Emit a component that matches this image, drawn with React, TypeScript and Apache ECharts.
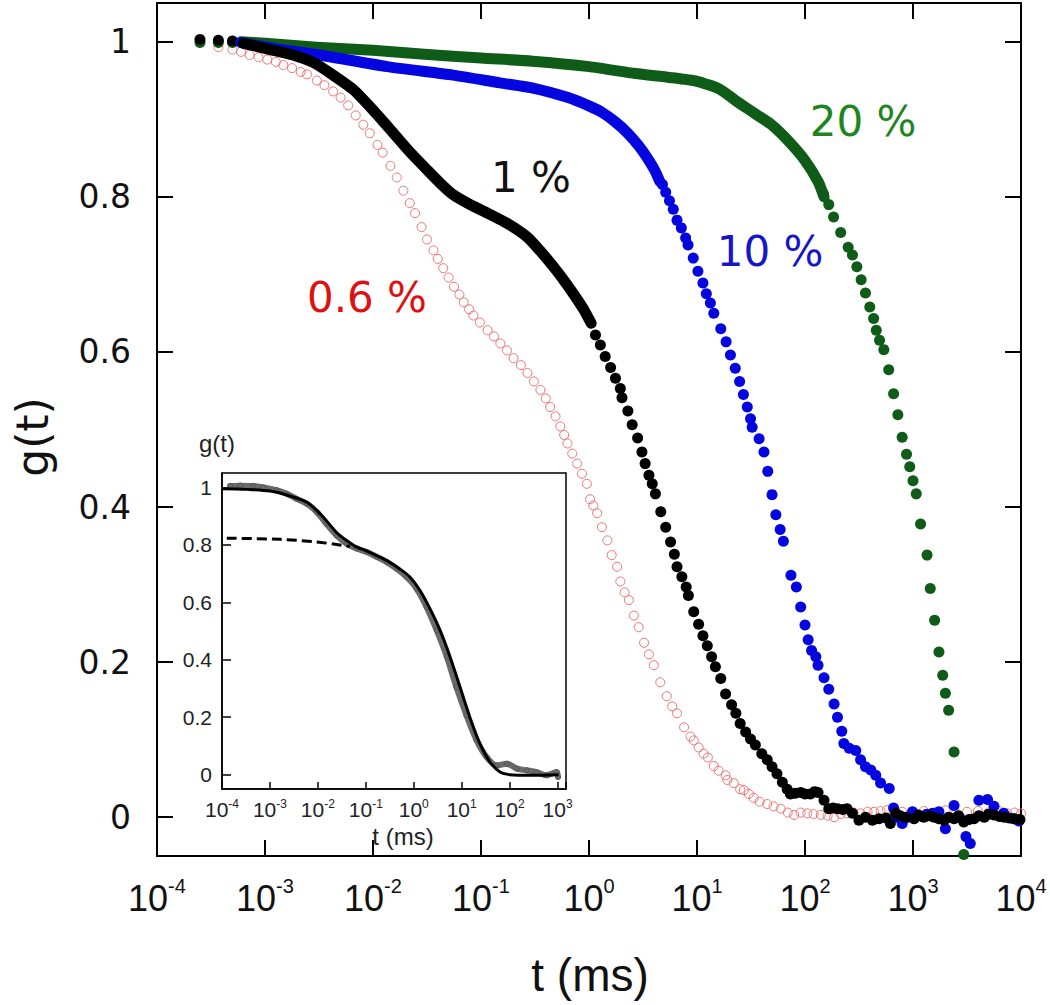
import React, { useEffect, useRef } from "react";
import * as echarts from "echarts";

// ---------- tick values ----------
const gTicks = [0, 0.2, 0.4, 0.6, 0.8, 1];

// ---------- main plot data: [t (ms), g(t)] ----------
// 0.6 % (open red circles)
const red06 = [
  [3.7e-4, 0.993], [5.0e-4, 0.99], [6.0e-4, 0.987], [7.2e-4, 0.983], [8.7e-4, 0.98],
  [1.05e-3, 0.977], [1.26e-3, 0.974], [1.48e-3, 0.97], [1.78e-3, 0.966], [2.14e-3, 0.961],
  [2.45e-3, 0.958], [3.02e-3, 0.95], [3.55e-3, 0.944], [4.27e-3, 0.936], [5.01e-3, 0.928],
  [5.89e-3, 0.918], [6.92e-3, 0.905], [8.13e-3, 0.893], [9.33e-3, 0.882], [1.1e-2, 0.867],
  [1.23e-2, 0.857], [1.45e-2, 0.84], [1.66e-2, 0.825], [1.91e-2, 0.808], [2.19e-2, 0.792],
  [2.45e-2, 0.779], [2.82e-2, 0.761], [3.16e-2, 0.745], [3.63e-2, 0.731], [3.98e-2, 0.72],
  [4.47e-2, 0.708], [5.01e-2, 0.696], [5.62e-2, 0.684], [6.31e-2, 0.674], [6.92e-2, 0.664],
  [7.76e-2, 0.655], [8.51e-2, 0.647], [9.77e-2, 0.638], [0.115, 0.628], [0.132, 0.62],
  [0.151, 0.611], [0.174, 0.602], [0.2, 0.592], [0.234, 0.583], [0.269, 0.573],
  [0.309, 0.562], [0.355, 0.551], [0.398, 0.54], [0.437, 0.529], [0.49, 0.517],
  [0.543, 0.504], [0.589, 0.493], [0.631, 0.482], [0.7, 0.469], [0.776, 0.456],
  [0.861, 0.443], [0.955, 0.43], [1.023, 0.41], [1.096, 0.402], [1.189, 0.392],
  [1.318, 0.374], [1.479, 0.357], [1.622, 0.338], [1.82, 0.323], [1.95, 0.304],
  [2.138, 0.29], [2.344, 0.28], [2.6, 0.26], [2.884, 0.245], [3.236, 0.225],
  [3.59, 0.21], [3.98, 0.196], [4.57, 0.174], [5.25, 0.156], [5.89, 0.143],
  [6.53, 0.134], [7.59, 0.116], [8.71, 0.104], [9.33, 0.099], [10.35, 0.09],
  [11.5, 0.082], [12.6, 0.077], [14.3, 0.066], [15.85, 0.06], [18.4, 0.054],
  [19.1, 0.048], [21.9, 0.044], [25.1, 0.036], [27.2, 0.035], [30.2, 0.03],
  [33.5, 0.025], [38, 0.02], [44.7, 0.017], [51.3, 0.014], [59.6, 0.011],
  [69.2, 0.006], [79.4, 0.003], [91.2, 0.006], [105, 0.005], [120, 0.004],
  [140, 0.003], [162, 0.002], [186, 0.0], [214, 0.004], [245, 0.005],
  [282, 0.006], [327, 0.005], [380, 0.007], [437, 0.007], [501, 0.008],
  [575, 0.009], [661, 0.006], [794, 0.007], [1000, 0.005], [1259, 0.008],
  [1585, 0.006], [1995, 0.009], [2512, 0.006], [3162, 0.007], [3981, 0.008],
  [5012, 0.006], [6310, 0.008], [7499, 0.005], [8710, 0.006], [10000, 0.005],
];

// 20 % (green): dense band, then separated points
const green20Band = [
  [6e-4, 1.0], [1e-3, 0.998], [3e-3, 0.993], [1e-2, 0.989], [3e-2, 0.984], [0.1, 0.979],
  [0.3, 0.975], [1, 0.968], [2.7, 0.959], [5.6, 0.954], [10, 0.949], [16.2, 0.939],
  [23.4, 0.923], [33.9, 0.908], [49, 0.893], [69.2, 0.873], [100, 0.847], [133, 0.819],
  [150, 0.8],
];
const green20Dots = [
  [2.5e-4, 0.999], [3.7e-4, 0.999], [5e-4, 0.999],
  [148, 0.804], [166, 0.79], [184, 0.774], [214, 0.754], [251, 0.735], [275, 0.725],
  [302, 0.71], [331, 0.693], [363, 0.676], [398, 0.658], [432, 0.643], [457, 0.628],
  [490, 0.615], [537, 0.603], [596, 0.577], [661, 0.546], [724, 0.519], [794, 0.49],
  [871, 0.468], [933, 0.452], [1000, 0.434], [1072, 0.417], [1175, 0.378], [1349, 0.338],
  [1445, 0.295], [1585, 0.254], [1738, 0.213], [1884, 0.183], [1995, 0.16], [2138, 0.138],
  [2399, 0.084], [2951, -0.048],
];

// 10 % (blue)
const blue10Band = [
  [6e-4, 0.999], [1.4e-3, 0.99], [3.2e-3, 0.983], [1.35e-2, 0.968], [5.5e-2, 0.957],
  [0.15, 0.947], [0.31, 0.94], [0.64, 0.928], [1.01, 0.917], [1.32, 0.909], [1.74, 0.897],
  [2.29, 0.882], [2.88, 0.866], [3.47, 0.85], [4.07, 0.834], [4.52, 0.82],
];
const blue10Dots = [
  [4.79, 0.816], [5.13, 0.806], [5.56, 0.795], [6.03, 0.784], [6.53, 0.77], [7.16, 0.76],
  [7.85, 0.747], [8.26, 0.738], [9.23, 0.721], [10.2, 0.704], [11.35, 0.689], [12.2, 0.675],
  [13.3, 0.663], [14.3, 0.65], [16.6, 0.63], [18.6, 0.613], [20.4, 0.596], [22.6, 0.579],
  [24.8, 0.562], [26.9, 0.545], [29.2, 0.529], [31.3, 0.514], [32.4, 0.503], [37.6, 0.488],
  [41.7, 0.471], [45.2, 0.446], [49.5, 0.416], [53.7, 0.39], [58.9, 0.371], [63.1, 0.356],
  [74.1, 0.312], [83.2, 0.297], [91.2, 0.271], [100, 0.248], [107, 0.229], [115, 0.215],
  [126, 0.207], [132, 0.196], [150, 0.18], [166, 0.165], [186, 0.146], [200, 0.129],
  [219, 0.111], [229, 0.095], [257, 0.089], [295, 0.086], [327, 0.074], [363, 0.065],
  [407, 0.061], [452, 0.054], [501, 0.044], [603, 0.037], [661, 0.012], [708, 0.0],
  [794, -0.008], [891, 0.0], [989, 0.007], [1072, 0.003], [1148, 0.002], [1349, 0.004],
  [1514, 0.005], [1738, 0.007], [1995, -0.015], [2399, 0.015], [2692, 0.0], [3090, -0.025],
  [3388, -0.034], [4074, 0.022], [4898, 0.023], [5623, 0.014], [6918, 0.005], [8511, -0.002],
  [9550, -0.005],
];

// 1 % (black)
const black1Band = [
  [6.3e-4, 0.998], [1.12e-3, 0.99], [1.82e-3, 0.983], [2.82e-3, 0.973], [4.27e-3, 0.957],
  [6.61e-3, 0.938], [1e-2, 0.912], [1.55e-2, 0.882], [2.19e-2, 0.858], [3.16e-2, 0.835],
  [4.17e-2, 0.818], [5.5e-2, 0.803], [7.94e-2, 0.79], [0.115, 0.779], [0.174, 0.766],
  [0.269, 0.748], [0.355, 0.73], [0.468, 0.71], [0.603, 0.69], [0.75, 0.671], [0.891, 0.655],
  [1.047, 0.637],
];
const black1Dots = [
  [2.5e-4, 1.003], [3.7e-4, 1.002], [5e-4, 1.001], [6.3e-4, 0.999],
  [1.148, 0.622], [1.274, 0.609], [1.413, 0.594], [1.585, 0.58], [1.758, 0.566], [1.95, 0.553],
  [2.02, 0.541], [2.29, 0.524], [2.51, 0.506], [2.82, 0.489], [3.09, 0.471], [3.31, 0.456],
  [3.59, 0.441], [3.85, 0.43], [4.12, 0.417], [4.62, 0.394], [5.13, 0.374], [5.69, 0.355],
  [6.17, 0.339], [6.53, 0.323], [7.24, 0.31], [7.94, 0.297], [8.32, 0.286], [9.33, 0.265],
  [10.35, 0.249], [11.35, 0.234], [12.45, 0.221], [13.65, 0.207], [14.8, 0.194], [16.6, 0.179],
  [18.4, 0.159], [20.9, 0.145], [22.9, 0.134], [25.1, 0.121], [28.2, 0.11], [31.3, 0.101],
  [34.7, 0.093], [39.8, 0.082], [44.7, 0.074], [49.5, 0.065], [55, 0.056], [61.7, 0.045],
  [68.4, 0.036], [73.3, 0.03], [81.3, 0.031], [91.2, 0.032], [100, 0.03], [112, 0.03],
  [123, 0.033], [132, 0.032], [150, 0.022], [166, 0.011], [182, 0.012], [200, 0.011],
  [224, 0.01], [245, 0.011], [275, 0.005], [316, -0.004], [363, 0.0], [422, -0.004],
  [484, -0.002], [562, -0.001], [617, -0.008], [692, 0.005], [759, 0.002], [851, 0.0],
  [1023, -0.002], [1122, 0.003], [1259, 0.0], [1413, 0.002], [1567, 0.0], [1738, -0.002],
  [1950, -0.004], [2138, 0.0], [2399, -0.002], [2630, 0.002], [2951, -0.006], [3311, -0.003],
  [3673, -0.002], [4074, 0.002], [4571, 0.0], [5012, 0.004], [5623, 0.003], [6310, 0.001],
  [7000, 0.0], [7762, -0.001], [8710, -0.002], [9772, -0.003],
];

// ---------- inset data ----------
const insetFit = [
  [1e-4, 0.995], [3.24e-4, 0.993], [1e-3, 0.987], [2.63e-3, 0.97], [5.89e-3, 0.948],
  [9.55e-3, 0.919], [1.51e-2, 0.884], [2.45e-2, 0.843], [3.98e-2, 0.815], [6.46e-2, 0.792],
  [0.1, 0.78], [0.17, 0.762], [0.316, 0.739], [0.513, 0.716], [0.832, 0.688], [1.35, 0.641],
  [2.19, 0.577], [3.55, 0.502], [5.75, 0.409], [9.23, 0.305], [14.8, 0.2], [24, 0.108],
  [38.9, 0.044], [63.1, 0.009], [102, 0.0], [269, -0.002], [1047, 0.0],
];
const insetData = [
  [1.48e-4, 1.005], [2.4e-4, 1.006], [4.47e-4, 1.005], [7.24e-4, 1.0], [1.38e-3, 0.99],
  [2.24e-3, 0.978], [3.63e-3, 0.96], [5.89e-3, 0.943], [9.55e-3, 0.914], [1.51e-2, 0.873],
  [2.45e-2, 0.833], [3.98e-2, 0.804], [6.46e-2, 0.787], [0.105, 0.775], [0.17, 0.758],
  [0.275, 0.74], [0.437, 0.717], [0.708, 0.688], [1.15, 0.647], [1.86, 0.583], [3.02, 0.502],
  [4.9, 0.41], [7.76, 0.305], [12.6, 0.206], [20.4, 0.12], [33.1, 0.061], [53.7, 0.032],
  [87.1, 0.038], [141, 0.021], [229, 0.015], [363, 0.009], [589, -0.002], [955, 0.009],
  [1023, -0.008],
];
const insetFast = [
  [1.26e-4, 0.823], [1.62e-3, 0.819], [9.55e-3, 0.81], [2.45e-2, 0.801], [4.68e-2, 0.794],
];

const labels = [
  { text: "0.6 %", x: 367, y: 297, color: "#dd1111" },
  { text: "1 %", x: 531, y: 177, color: "#111111" },
  { text: "10 %", x: 770, y: 251, color: "#1616c8" },
  { text: "20 %", x: 863, y: 121, color: "#1f861f" },
];

const MAIN_FONT = "DejaVu Sans, Verdana, sans-serif";
const NARROW_FONT = "Liberation Sans Narrow, Liberation Sans, Arial, sans-serif";
const INSET_FONT = "Liberation Sans, Arial, sans-serif";

function powLabel(v: number) {
  const e = Math.log10(v);
  const r = Math.round(e);
  if (Math.abs(e - r) > 0.01) return "";
  return `{b|10}{s|${r}}`;
}

export default function App() {
  const ref = useRef<HTMLDivElement>(null);
  useEffect(() => {
    const chart = echarts.init(ref.current!, null, { renderer: "svg" });
    const black = "#000";
    const mainTick = { show: true, inside: true, length: 16, lineStyle: { color: black, width: 2 } };
    const mainLine = { show: true, onZero: false, lineStyle: { color: black, width: 2 } };
    const insetLine = { show: true, onZero: false, lineStyle: { color: black, width: 1.5 } };
    const DOT = 11;
    const option: any = {
      animation: false,
      backgroundColor: "#fff",
      grid: [
        { left: 157, top: 3, width: 864, height: 853, show: false },
        {
          left: 222, top: 473, width: 344, height: 316, show: true,
          backgroundColor: "#fff", borderColor: "#000", borderWidth: 1.5, z: 5,
        },
      ],
      xAxis: [
        {
          type: "log", gridIndex: 0, logBase: 10, min: 1e-4, max: 1e4,
          axisLine: mainLine,
          axisTick: mainTick,
          splitLine: { show: false },
          axisLabel: {
            margin: 20,
            formatter: powLabel,
            rich: {
              b: { fontSize: 36, fontFamily: NARROW_FONT, color: "#111", verticalAlign: "bottom", lineHeight: 40 },
              s: { fontSize: 20, fontFamily: NARROW_FONT, color: "#111", verticalAlign: "top", lineHeight: 22 },
            },
          },
        },
        {
          type: "log", gridIndex: 0, logBase: 10, min: 1e-4, max: 1e4, position: "top",
          axisLine: mainLine,
          axisTick: mainTick, axisLabel: { show: false }, splitLine: { show: false },
        },
        {
          type: "log", gridIndex: 1, logBase: 10, min: 1e-4, max: 1500, z: 6,
          axisLine: insetLine,
          axisTick: { show: true, inside: true, length: 7, lineStyle: { color: black, width: 1.5 } },
          splitLine: { show: false },
          axisLabel: {
            margin: 9,
            formatter: powLabel,
            rich: {
              b: { fontSize: 21, fontFamily: INSET_FONT, color: "#222", verticalAlign: "bottom", lineHeight: 22 },
              s: { fontSize: 12, fontFamily: INSET_FONT, color: "#222", verticalAlign: "top", lineHeight: 13 },
            },
          },
        },
      ],
      yAxis: [
        {
          type: "value", gridIndex: 0, min: -0.05, max: 1.05,
          axisLine: mainLine,
          axisTick: { ...mainTick, customValues: gTicks },
          splitLine: { show: false },
          axisLabel: {
            customValues: gTicks, margin: 26, fontSize: 33, fontFamily: MAIN_FONT, color: "#111",
            formatter: (v: number) => String(Math.round(v * 10) / 10),
          },
        },
        {
          type: "value", gridIndex: 0, min: -0.05, max: 1.05, position: "right",
          axisLine: mainLine,
          axisTick: { ...mainTick, customValues: gTicks },
          axisLabel: { show: false }, splitLine: { show: false },
        },
        {
          type: "value", gridIndex: 1, min: -0.05, max: 1.05, z: 6,
          axisLine: insetLine,
          axisTick: { show: true, inside: true, length: 9, lineStyle: { color: black, width: 1.5 }, customValues: gTicks },
          splitLine: { show: false },
          axisLabel: {
            customValues: gTicks, margin: 10, fontSize: 21, fontFamily: INSET_FONT, color: "#222",
            formatter: (v: number) => String(Math.round(v * 10) / 10),
          },
        },
      ],
      series: [
        {
          name: "0.6 %", type: "scatter", xAxisIndex: 0, yAxisIndex: 0, data: red06,
          symbol: "circle", symbolSize: 9,
          itemStyle: { color: "rgba(255,255,255,0)", borderColor: "#ec7272", borderWidth: 1, opacity: 1 },
        },
        {
          name: "20 % band", type: "line", xAxisIndex: 0, yAxisIndex: 0, data: green20Band,
          showSymbol: false, symbol: "none", smooth: 0.2,
          lineStyle: { color: "#0e5c17", width: DOT, cap: "round", join: "round" },
        },
        {
          name: "20 %", type: "scatter", xAxisIndex: 0, yAxisIndex: 0, data: green20Dots,
          symbolSize: DOT, itemStyle: { color: "#0e5c17", opacity: 1 },
        },
        {
          name: "10 % band", type: "line", xAxisIndex: 0, yAxisIndex: 0, data: blue10Band,
          showSymbol: false, symbol: "none", smooth: 0.2,
          lineStyle: { color: "#0505e0", width: DOT, cap: "round", join: "round" },
        },
        {
          name: "10 %", type: "scatter", xAxisIndex: 0, yAxisIndex: 0, data: blue10Dots,
          symbolSize: DOT, itemStyle: { color: "#0505e0", opacity: 1 },
        },
        {
          name: "1 % band", type: "line", xAxisIndex: 0, yAxisIndex: 0, data: black1Band,
          showSymbol: false, symbol: "none", smooth: 0.2,
          lineStyle: { color: "#000", width: DOT, cap: "round", join: "round" },
        },
        {
          name: "1 %", type: "scatter", xAxisIndex: 0, yAxisIndex: 0, data: black1Dots,
          symbolSize: DOT, itemStyle: { color: "#000", opacity: 1 },
        },
        {
          name: "inset data band", type: "line", xAxisIndex: 2, yAxisIndex: 2, data: insetData,
          showSymbol: false, symbol: "none", smooth: 0.3, z: 6,
          lineStyle: { color: "#6a6a6a", width: 6, cap: "round", join: "round" },
        },
        {
          name: "inset data", type: "scatter", xAxisIndex: 2, yAxisIndex: 2, data: insetData,
          symbolSize: 5, z: 6,
          itemStyle: { color: "rgba(255,255,255,0)", borderColor: "#555", borderWidth: 1, opacity: 1 },
        },
        {
          name: "inset fit", type: "line", xAxisIndex: 2, yAxisIndex: 2, data: insetFit,
          showSymbol: false, symbol: "none", smooth: 0.3, z: 7,
          lineStyle: { color: "#000", width: 3 },
        },
        {
          name: "inset fast mode", type: "line", xAxisIndex: 2, yAxisIndex: 2, data: insetFast,
          showSymbol: false, symbol: "none", smooth: 0.3, z: 7,
          lineStyle: { color: "#000", width: 3, type: [10, 5] },
        },
      ],
      graphic: [
        ...labels.map((l) => ({
          type: "text", x: l.x, y: l.y, z: 10,
          style: { text: l.text, fill: l.color, font: `42px ${MAIN_FONT}`, textAlign: "center", textVerticalAlign: "middle" },
        })),
        {
          type: "text", x: 590, y: 975, z: 10,
          style: { text: "t (ms)", fill: "#111", font: `46px ${NARROW_FONT}`, textAlign: "center", textVerticalAlign: "middle" },
        },
        {
          type: "text", x: 32, y: 437, rotation: Math.PI / 2, z: 10,
          style: { text: "g(t)", fill: "#111", font: `44px ${MAIN_FONT}`, textAlign: "center", textVerticalAlign: "middle" },
        },
        {
          type: "text", x: 403, y: 836, z: 10,
          style: { text: "t (ms)", fill: "#222", font: `24px ${INSET_FONT}`, textAlign: "center", textVerticalAlign: "middle" },
        },
        {
          type: "text", x: 217, y: 443, z: 10,
          style: { text: "g(t)", fill: "#222", font: `24px ${INSET_FONT}`, textAlign: "center", textVerticalAlign: "middle" },
        },
      ],
    };
    chart.setOption(option);
    return () => chart.dispose();
  }, []);
  return (
    <div
      ref={ref}
      style={{ position: "absolute", left: 0, top: 0, width: 1050, height: 1005, background: "#fff" }}
    />
  );
}
